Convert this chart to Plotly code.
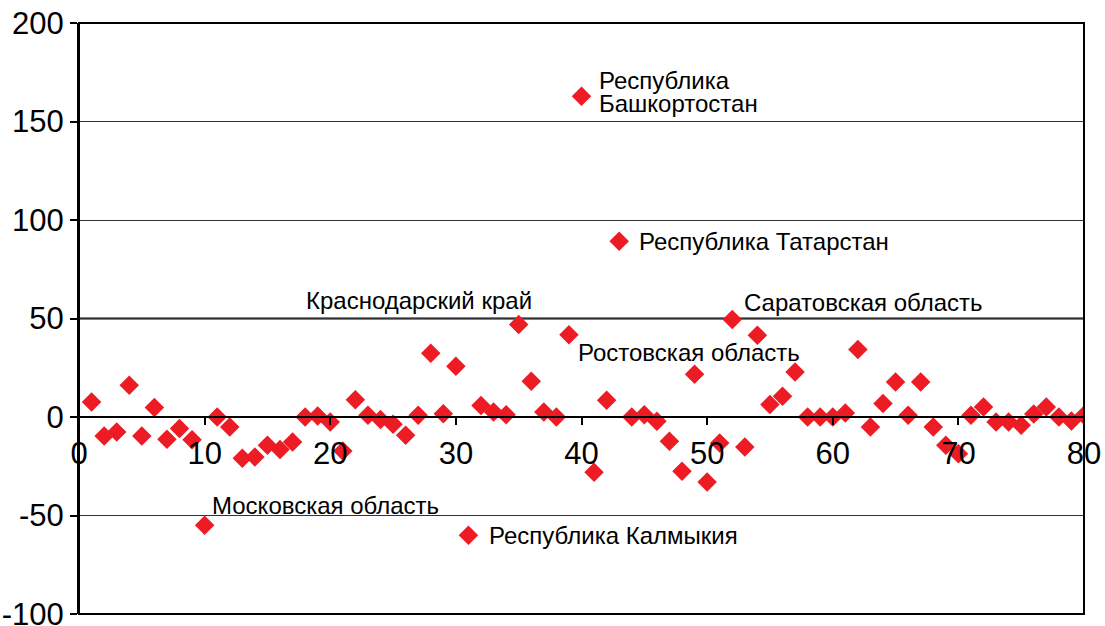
import plotly.graph_objects as go

# ---- data ----
region_index = list(range(1, 81))
values = [
    7.6, -9.6, -7.6, 16.1, -9.6, 4.8, -11.3, -5.9, -11.5, -55.0,
    0.0, -5.1, -21.0, -20.3, -14.4, -16.5, -12.7, 0.0, 0.5, -2.5,
    -17.3, 8.8, 0.9, -1.3, -3.7, -9.3, 0.9, 32.3, 1.7, 25.7,
    -60.0, 5.9, 2.5, 1.2, 47.0, 18.1, 2.5, 0.0, 41.8, 162.8,
    -28.0, 8.5, 89.2, 0.0, 1.2, -2.2, -12.3, -27.5, 21.7, -33.0,
    -13.2, 49.5, -15.2, 41.5, 6.3, 10.5, 22.8, 0.0, 0.0, 0.0,
    2.0, 34.3, -5.1, 6.8, 17.8, 0.9, 17.8, -5.1, -14.4, -18.7,
    0.9, 5.1, -2.5, -2.5, -4.2, 1.5, 5.1, 0.0, -2.0, 0.9,
]
x_ticks = [0, 10, 20, 30, 40, 50, 60, 70, 80]
y_ticks = [-100, -50, 0, 50, 100, 150, 200]

label_texts = ["Республика", "Башкортостан", "Республика Татарстан",
               "Краснодарский край", "Саратовская область", "Ростовская область",
               "Московская область", "Республика Калмыкия"]

FONT = "Liberation Sans, Arial, sans-serif"

fig = go.Figure()
fig.add_trace(go.Scatter(
    x=region_index, y=values, mode="markers",
    marker=dict(symbol="diamond", size=15, color="#ED1C24", line=dict(width=0)),
    hoverinfo="x+y", showlegend=False,
))

# label anchor positions (data coords, left/middle)
label_pos = [(41.25, 170.9), (41.25, 159.2), (44.4, 89.2), (17.9, 59.2),
             (52.75, 58.2), (39.6, 32.8), (10.4, -44.8), (32.45, -60.1)]
for t, (ax_, ay_) in zip(label_texts, label_pos):
    fig.add_annotation(x=ax_, y=ay_, text=t, showarrow=False,
                       xanchor="left", yanchor="middle",
                       font=dict(family=FONT, size=24, color="#000"))

# frame
fig.add_shape(type="rect", xref="paper", yref="paper", x0=0, x1=1, y0=0, y1=1,
              line=dict(color="#000", width=2), layer="above")
# emphasised 50 line
fig.add_shape(type="line", xref="paper", x0=0, x1=1, yref="y", y0=50, y1=50,
              line=dict(color="#000", width=2), layer="below")

fig.update_layout(
    width=1105, height=626,
    margin=dict(l=79, r=21, t=23, b=12, autoexpand=False),
    paper_bgcolor="white", plot_bgcolor="white",
    font=dict(family=FONT, color="#000"),
    xaxis=dict(range=[0, 80], tickvals=x_ticks, ticktext=[str(v) for v in x_ticks],
               anchor="free", position=1/3, showline=True, linecolor="#000", linewidth=2,
               ticks="outside", ticklen=7, tickwidth=2, tickcolor="#000",
               showgrid=False, zeroline=False, tickfont=dict(size=31),
               ticklabelstandoff=2, automargin=False, ticklabeloverflow="allow"),
    yaxis=dict(range=[-100, 200], tickvals=y_ticks, ticktext=[str(v) for v in y_ticks],
               showline=True, linecolor="#000", linewidth=2,
               ticks="outside", ticklen=7, tickwidth=2, tickcolor="#000",
               showgrid=True, gridcolor="#333", gridwidth=1, zeroline=False,
               tickfont=dict(size=31), automargin=False, ticklabeloverflow="allow"),
)

fig.write_html("out.html", config={"displayModeBar": False},
               post_script="document.body.style.margin='0px';document.body.style.overflow='hidden';")
